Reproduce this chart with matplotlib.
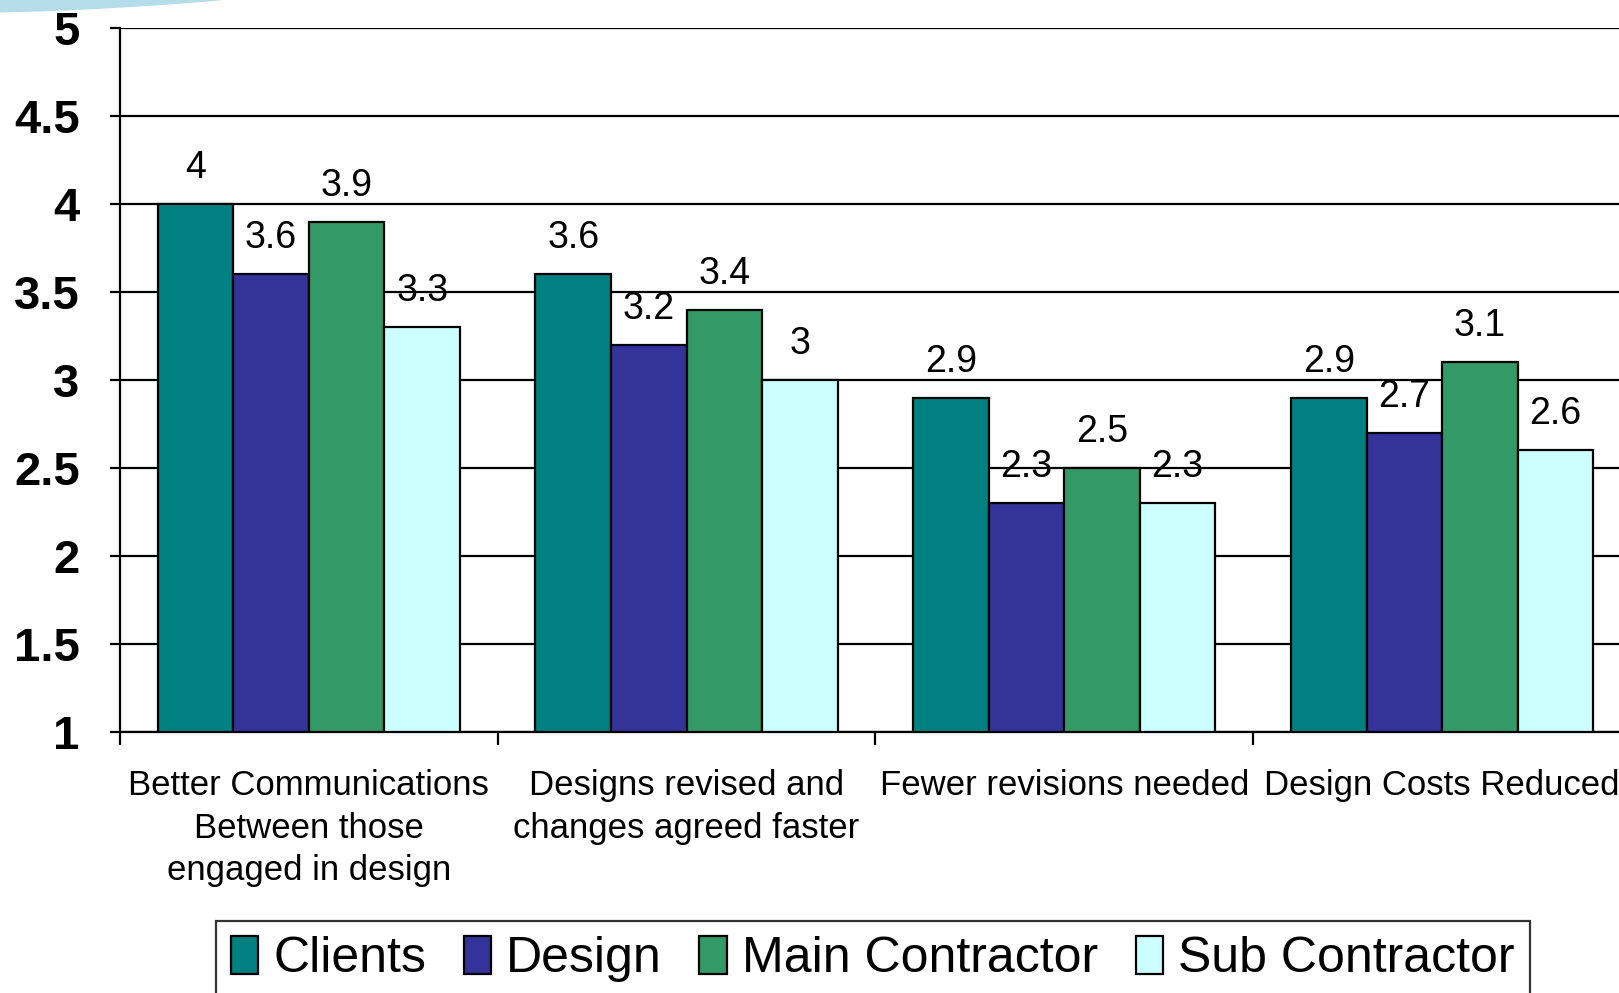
import numpy as np
import matplotlib
matplotlib.use("Agg")
import matplotlib.pyplot as plt
from matplotlib.patches import Ellipse

categories = ["Better Communications\nBetween those\nengaged in design",
              "Designs revised and\nchanges agreed faster",
              "Fewer revisions needed",
              "Design Costs Reduced"]
series = ["Clients", "Design", "Main Contractor", "Sub Contractor"]
clients = [4.0, 3.6, 2.9, 2.9]
design = [3.6, 3.2, 2.3, 2.7]
main_contractor = [3.9, 3.4, 2.5, 3.1]
sub_contractor = [3.3, 3.0, 2.3, 2.6]
colors = ["#008080", "#333399", "#339966", "#CCFFFF"]

plt.rcParams['font.family'] = ['Liberation Sans', 'DejaVu Sans']

fig = plt.figure(figsize=(16.19, 9.93), dpi=100)
# decorative swoosh top-left
fig.patches.append(Ellipse((0.04, 1.012), 0.36, 0.045, angle=4, transform=fig.transFigure,
                           facecolor="#a8d8e6", edgecolor="none", alpha=0.85))
ax = fig.add_axes([0.0741, 0.2628, 0.9333, 0.709])

x = np.arange(len(categories))
w = 0.2
offsets = [-1.5, -0.5, 0.5, 1.5]
for vals, name, col, off in zip([clients, design, main_contractor, sub_contractor], series, colors, offsets):
    ax.bar(x + off * w, np.array(vals) - 1, w, bottom=1, color=col, edgecolor="black",
           linewidth=1.6, label=name, zorder=3)
    for xi, v in zip(x + off * w, vals):
        ax.annotate(f"{v:g}", (xi, v), xytext=(0, 13), textcoords="offset points",
                    ha="center", va="bottom", fontsize=27, zorder=4)

ax.set_xlim(-0.5, 3.5)
ax.set_ylim(1, 5)
yt = np.arange(1, 5.01, 0.5)
ax.set_yticks(yt)
ax.set_yticklabels([f"{t:g}" for t in yt], fontsize=34, fontweight="bold")
ax.yaxis.grid(True, color="black", linewidth=1.6, zorder=0)
ax.set_axisbelow(True)
ax.set_xticks(np.arange(-0.5, 3.6, 1))
ax.set_xticklabels([])
ax.tick_params(axis="x", direction="out", length=9, width=1.6)
ax.tick_params(axis="y", direction="out", length=7, width=1.6, pad=22)
for s in ["top", "right"]:
    ax.spines[s].set_visible(False)
for s in ["left", "bottom"]:
    ax.spines[s].set_linewidth(1.6)

for xi, lab in zip(x, categories):
    ax.text(xi, -0.052, lab, transform=ax.get_xaxis_transform(), ha="center", va="top",
            fontsize=25, linespacing=1.38)

leg = fig.legend(loc="upper center", bbox_to_anchor=(0.539, 0.0728), ncol=4, fontsize=36,
                 frameon=True, fancybox=False, edgecolor="black", handlelength=0.55,
                 handleheight=0.8, handletextpad=0.3, columnspacing=0.75, borderpad=0.3,
                 borderaxespad=0)
leg.get_frame().set_linewidth(1.6)

fig.savefig("out.png", dpi=100)
